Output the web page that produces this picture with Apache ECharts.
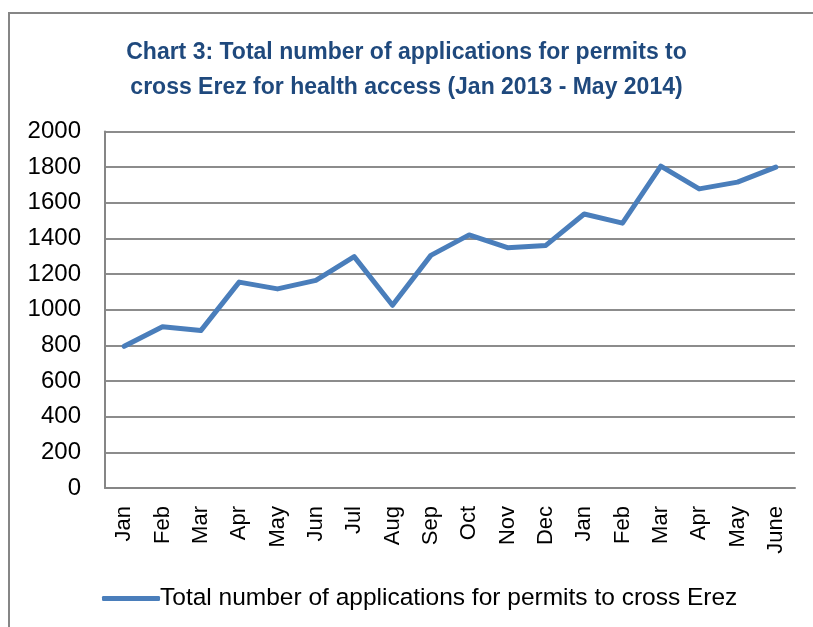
<!DOCTYPE html>
<html>
<head>
<meta charset="utf-8">
<script src="https://cdn.jsdelivr.net/npm/echarts@6/dist/echarts.min.js"></script>
<style>html,body{margin:0;padding:0;background:#fff}#c{width:813px;height:627px}</style>
</head>
<body>
<div id="c"></div>
<script>
const categories = ['Jan','Feb','Mar','Apr','May','Jun','Jul','Aug','Sep','Oct','Nov','Dec','Jan','Feb','Mar','Apr','May','June'];
const applications = [795, 905, 883, 1155, 1117, 1165, 1298, 1025, 1305, 1420, 1348, 1361, 1537, 1486, 1806, 1678, 1716, 1800];
const seriesName = 'Total number of applications for permits to cross Erez';
const titleText = 'Chart 3: Total number of applications for permits to\ncross Erez for health access (Jan 2013 - May 2014)';
const yMin = 0, yMax = 2000, yStep = 200;

const font = 'Liberation Sans';
const chart = echarts.init(document.getElementById('c'));
chart.setOption({
  animation: false,
  backgroundColor: '#fff',
  graphic: [{
    type: 'rect', shape: {x: 9, y: 13, width: 900, height: 700},
    style: {fill: 'none', stroke: '#868686', lineWidth: 2}, silent: true, z: -1
  }],
  title: {
    text: titleText, left: 'center', top: 30,
    textStyle: {fontFamily: font, fontWeight: 'bold', fontSize: 23, color: '#1f497d', lineHeight: 35}
  },
  legend: {
    left: 97, top: 581,
    icon: 'roundRect', itemWidth: 58, itemHeight: 5, itemGap: 0,
    textStyle: {fontFamily: font, fontSize: 24.5, color: '#000', padding: [0,0,0,-5]},
    data: [seriesName]
  },
  grid: {left: 105, right: 18, top: 131.5, bottom: 139, containLabel: false},
  xAxis: {
    type: 'category', data: categories, boundaryGap: true,
    axisLine: {show: true, lineStyle: {color: '#868686', width: 2}},
    axisTick: {show: false},
    axisLabel: {rotate: 90, margin: 18, fontFamily: font, fontSize: 22, color: '#000', interval: 0}
  },
  yAxis: {
    type: 'value', min: yMin, max: yMax, interval: yStep,
    axisLine: {show: true, lineStyle: {color: '#868686', width: 2}},
    axisTick: {show: false},
    axisLabel: {margin: 24, fontFamily: font, fontSize: 24, color: '#000', formatter: v => String(v)},
    splitLine: {show: true, lineStyle: {color: '#8c8c8c', width: 2}}
  },
  series: [{
    name: seriesName, type: 'line', data: applications,
    symbol: 'none', smooth: false,
    lineStyle: {color: '#4a7ebb', width: 5, cap: 'round', join: 'round'},
    itemStyle: {color: '#4a7ebb'}
  }]
});
</script>
</body>
</html>
